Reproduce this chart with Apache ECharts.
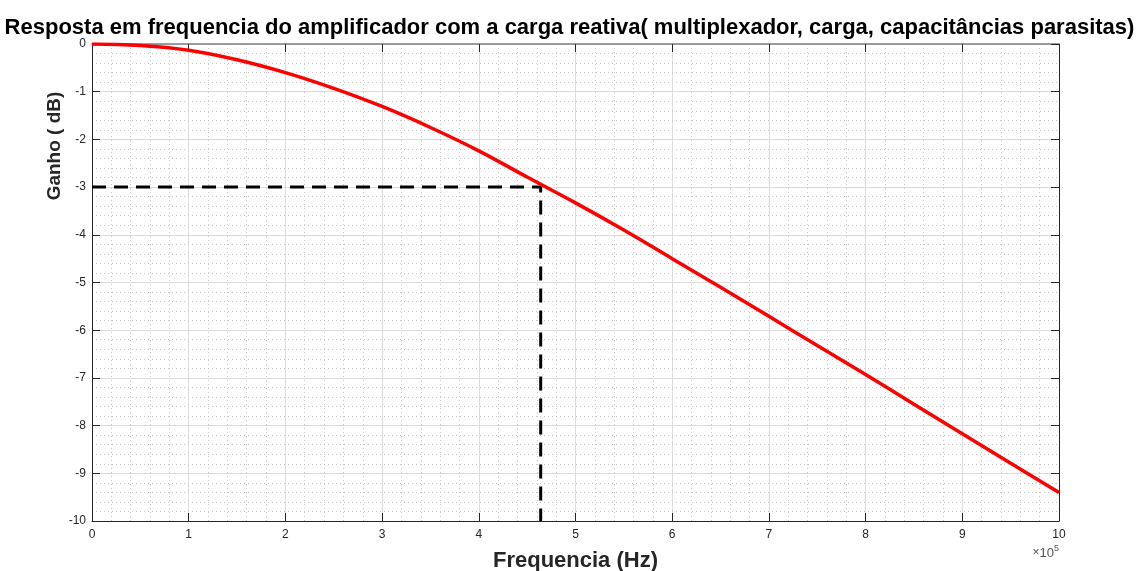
<!DOCTYPE html>
<html>
<head>
<meta charset="utf-8">
<script src="https://cdn.jsdelivr.net/npm/echarts@6/dist/echarts.min.js"></script>
<style>
  html, body { margin: 0; padding: 0; background: #fff; }
  #chart { width: 1139px; height: 571px; }
</style>
</head>
<body>
<div id="chart"></div>
<script>
// frequencia (Hz) e ganho (dB)
const freqHz = [0, 50000, 100000, 150000, 200000, 250000, 300000, 350000, 400000, 450000,
  500000, 550000, 600000, 650000, 700000, 750000, 800000, 850000, 900000, 950000, 1000000];
const gainDb = [0, -0.03, -0.13, -0.33, -0.6, -0.93, -1.31, -1.75, -2.24, -2.79,
  -3.33, -3.9, -4.5, -5.1, -5.71, -6.32, -6.93, -7.55, -8.17, -8.79, -9.4];
// ponto de -3 dB
const cutoffHz = 464000;
const cutoffDb = -3;

const font = 'Liberation Sans, Arial, Helvetica, sans-serif';
const textColor = '#262626';

const chart = echarts.init(document.getElementById('chart'), null, { renderer: 'canvas' });

const gridLine = { show: true, lineStyle: { color: '#dcdcdc', width: 1 } };
const minorLine = { show: true, lineStyle: { color: '#c8c8c8', width: 1, type: [1, 3] } };

const option = {
  animation: false,
  title: {
    text: 'Resposta em frequencia do amplificador com a carga reativa( multiplexador, carga, capacitâncias parasitas)',
    left: 'center',
    top: 12,
    textStyle: { fontFamily: font, fontSize: 22, fontWeight: 'bold', color: '#000' }
  },
  grid: { left: 92, right: 80, top: 44, bottom: 50, outerBoundsMode: 'none', containLabel: false },
  xAxis: [
    {
      type: 'value', min: 0, max: 1000000, interval: 100000,
      name: 'Frequencia (Hz)', nameLocation: 'middle', nameGap: 29,
      nameTextStyle: { fontFamily: font, fontSize: 22, fontWeight: 'bold', color: textColor },
      axisLine: { show: true, onZero: false, lineStyle: { color: textColor, width: 1 } },
      axisTick: { show: true, inside: true, length: 8, lineStyle: { color: textColor } },
      axisLabel: { color: textColor, fontFamily: font, fontSize: 12, margin: 8,
        formatter: v => String(Math.round(v / 100000)) },
      splitLine: gridLine,
      minorTick: { show: false, splitNumber: 5 },
      minorSplitLine: minorLine
    },
    {
      type: 'value', position: 'top', min: 0, max: 1000000, interval: 100000,
      axisLine: { show: true, onZero: false, lineStyle: { color: '#808080', width: 1.5 } },
      axisTick: { show: true, inside: true, length: 8, lineStyle: { color: textColor } },
      axisLabel: { show: false },
      splitLine: { show: false }
    }
  ],
  yAxis: [
    {
      type: 'value', min: -10, max: 0, interval: 1,
      axisLine: { show: true, onZero: false, lineStyle: { color: textColor, width: 1 } },
      axisTick: { show: true, inside: true, length: 8, lineStyle: { color: textColor } },
      axisLabel: { color: textColor, fontFamily: font, fontSize: 12, margin: 6 },
      splitLine: gridLine,
      minorTick: { show: false, splitNumber: 5 },
      minorSplitLine: minorLine
    },
    {
      type: 'value', position: 'right', min: -10, max: 0, interval: 1,
      axisLine: { show: true, onZero: false, lineStyle: { color: textColor, width: 1 } },
      axisTick: { show: true, inside: true, length: 8, lineStyle: { color: textColor } },
      axisLabel: { show: false },
      splitLine: { show: false }
    }
  ],
  graphic: [
    {
      type: 'text', x: 55, y: 146, rotation: Math.PI / 2,
      style: { text: 'Ganho ( dB)', fontFamily: font, fontSize: 19, fontWeight: 'bold',
        fill: textColor, align: 'center', verticalAlign: 'middle' }
    },
    {
      type: 'text', x: 1059, y: 553,
      style: {
        text: '{a|×}{b|10}{c|5}', align: 'right', verticalAlign: 'middle',
        rich: {
          a: { fontFamily: font, fontSize: 12, fill: '#555' },
          b: { fontFamily: font, fontSize: 13, fill: '#555' },
          c: { fontFamily: font, fontSize: 9, fill: '#555', verticalAlign: 'top', padding: [0, 0, 9, 0] }
        }
      }
    }
  ],
  series: [
    {
      name: 'ganho',
      type: 'line',
      data: freqHz.map((f, i) => [f, gainDb[i]]),
      smooth: 0.4,
      symbol: 'none',
      lineStyle: { color: '#ff0000', width: 3.5 },
      z: 3
    },
    {
      name: '-3 dB',
      type: 'line',
      data: [[0, cutoffDb], [cutoffHz, cutoffDb], [cutoffHz, -10]],
      symbol: 'none',
      lineStyle: { color: '#000', width: 3, type: [14, 8] },
      z: 2
    }
  ]
};

chart.setOption(option);
</script>
</body>
</html>
